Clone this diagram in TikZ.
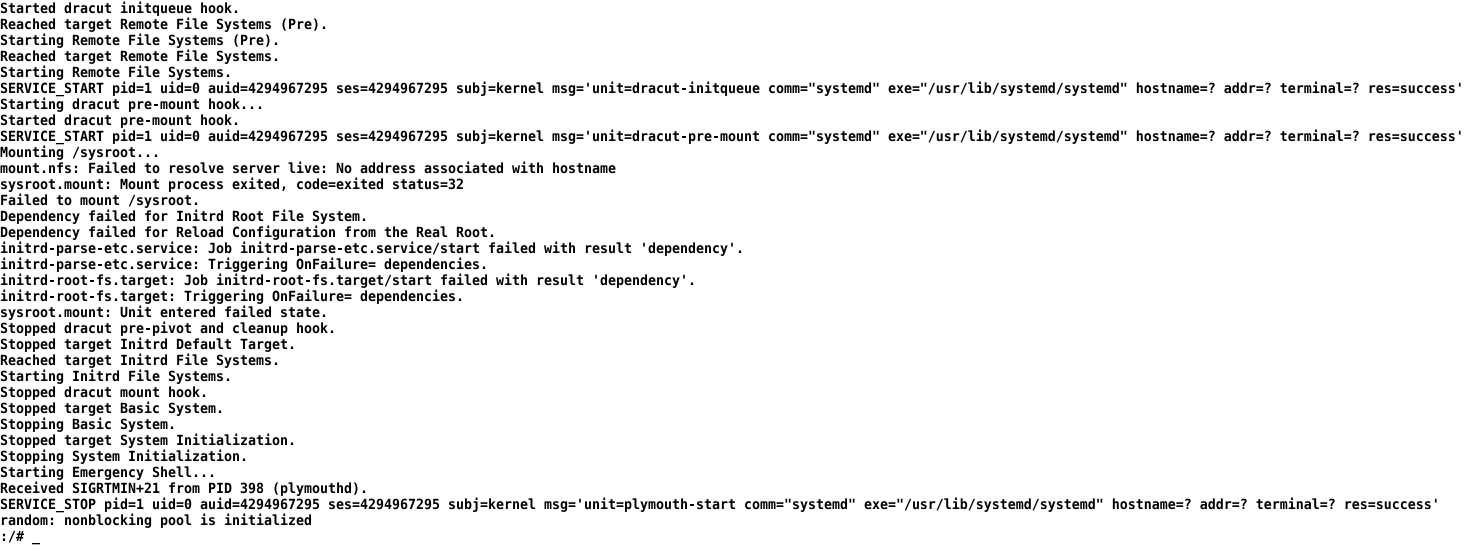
\documentclass[tikz,border=0pt]{standalone}
\usepackage{fontspec}
\usepackage{tikz}
\newfontfamily\consolefont[FakeStretch=0.949]{DejaVu Sans Mono}

\begin{document}
\frenchspacing
\begin{tikzpicture}[x=1pt,y=-1pt,
  logline/.style={anchor=base west,inner sep=0pt,font=\consolefont\bfseries\fontsize{14pt}{16pt}\selectfont}]
%[background and bounding box]
\path[fill=white,use as bounding box] (0,0) rectangle (1470,550);
\path (0,13) node (l1) [logline] {Started dracut initqueue hook.};
\path (0,29) node (l2) [logline] {Reached target Remote File Systems (Pre).};
\path (0,45) node (l3) [logline] {Starting Remote File Systems (Pre).};
\path (0,61) node (l4) [logline] {Reached target Remote File Systems.};
\path (0,77) node (l5) [logline] {Starting Remote File Systems.};
\path (0,93) node (l6) [logline] {SERVICE\_START pid=1 uid=0 auid=4294967295 ses=4294967295 subj=kernel msg='unit=dracut-initqueue comm="systemd" exe="/usr/lib/systemd/systemd" hostname=? addr=? terminal=? res=success'};
\path (0,109) node (l7) [logline] {Starting dracut pre-mount hook...};
\path (0,125) node (l8) [logline] {Started dracut pre-mount hook.};
\path (0,141) node (l9) [logline] {SERVICE\_START pid=1 uid=0 auid=4294967295 ses=4294967295 subj=kernel msg='unit=dracut-pre-mount comm="systemd" exe="/usr/lib/systemd/systemd" hostname=? addr=? terminal=? res=success'};
\path (0,157) node (l10) [logline] {Mounting /sysroot...};
\path (0,173) node (l11) [logline] {mount.nfs: Failed to resolve server live: No address associated with hostname};
\path (0,189) node (l12) [logline] {sysroot.mount: Mount process exited, code=exited status=32};
\path (0,205) node (l13) [logline] {Failed to mount /sysroot.};
\path (0,221) node (l14) [logline] {Dependency failed for Initrd Root File System.};
\path (0,237) node (l15) [logline] {Dependency failed for Reload Configuration from the Real Root.};
\path (0,253) node (l16) [logline] {initrd-parse-etc.service: Job initrd-parse-etc.service/start failed with result 'dependency'.};
\path (0,269) node (l17) [logline] {initrd-parse-etc.service: Triggering OnFailure= dependencies.};
\path (0,285) node (l18) [logline] {initrd-root-fs.target: Job initrd-root-fs.target/start failed with result 'dependency'.};
\path (0,301) node (l19) [logline] {initrd-root-fs.target: Triggering OnFailure= dependencies.};
\path (0,317) node (l20) [logline] {sysroot.mount: Unit entered failed state.};
\path (0,333) node (l21) [logline] {Stopped dracut pre-pivot and cleanup hook.};
\path (0,349) node (l22) [logline] {Stopped target Initrd Default Target.};
\path (0,365) node (l23) [logline] {Reached target Initrd File Systems.};
\path (0,381) node (l24) [logline] {Starting Initrd File Systems.};
\path (0,397) node (l25) [logline] {Stopped dracut mount hook.};
\path (0,413) node (l26) [logline] {Stopped target Basic System.};
\path (0,429) node (l27) [logline] {Stopping Basic System.};
\path (0,445) node (l28) [logline] {Stopped target System Initialization.};
\path (0,461) node (l29) [logline] {Stopping System Initialization.};
\path (0,477) node (l30) [logline] {Starting Emergency Shell...};
\path (0,493) node (l31) [logline] {Received SIGRTMIN+21 from PID 398 (plymouthd).};
\path (0,509) node (l32) [logline] {SERVICE\_STOP pid=1 uid=0 auid=4294967295 ses=4294967295 subj=kernel msg='unit=plymouth-start comm="systemd" exe="/usr/lib/systemd/systemd" hostname=? addr=? terminal=? res=success'};
\path (0,525) node (l33) [logline] {random: nonblocking pool is initialized};
\path (0,541) node (l34) [logline] {:/\# \_};
\end{tikzpicture}
\end{document}
